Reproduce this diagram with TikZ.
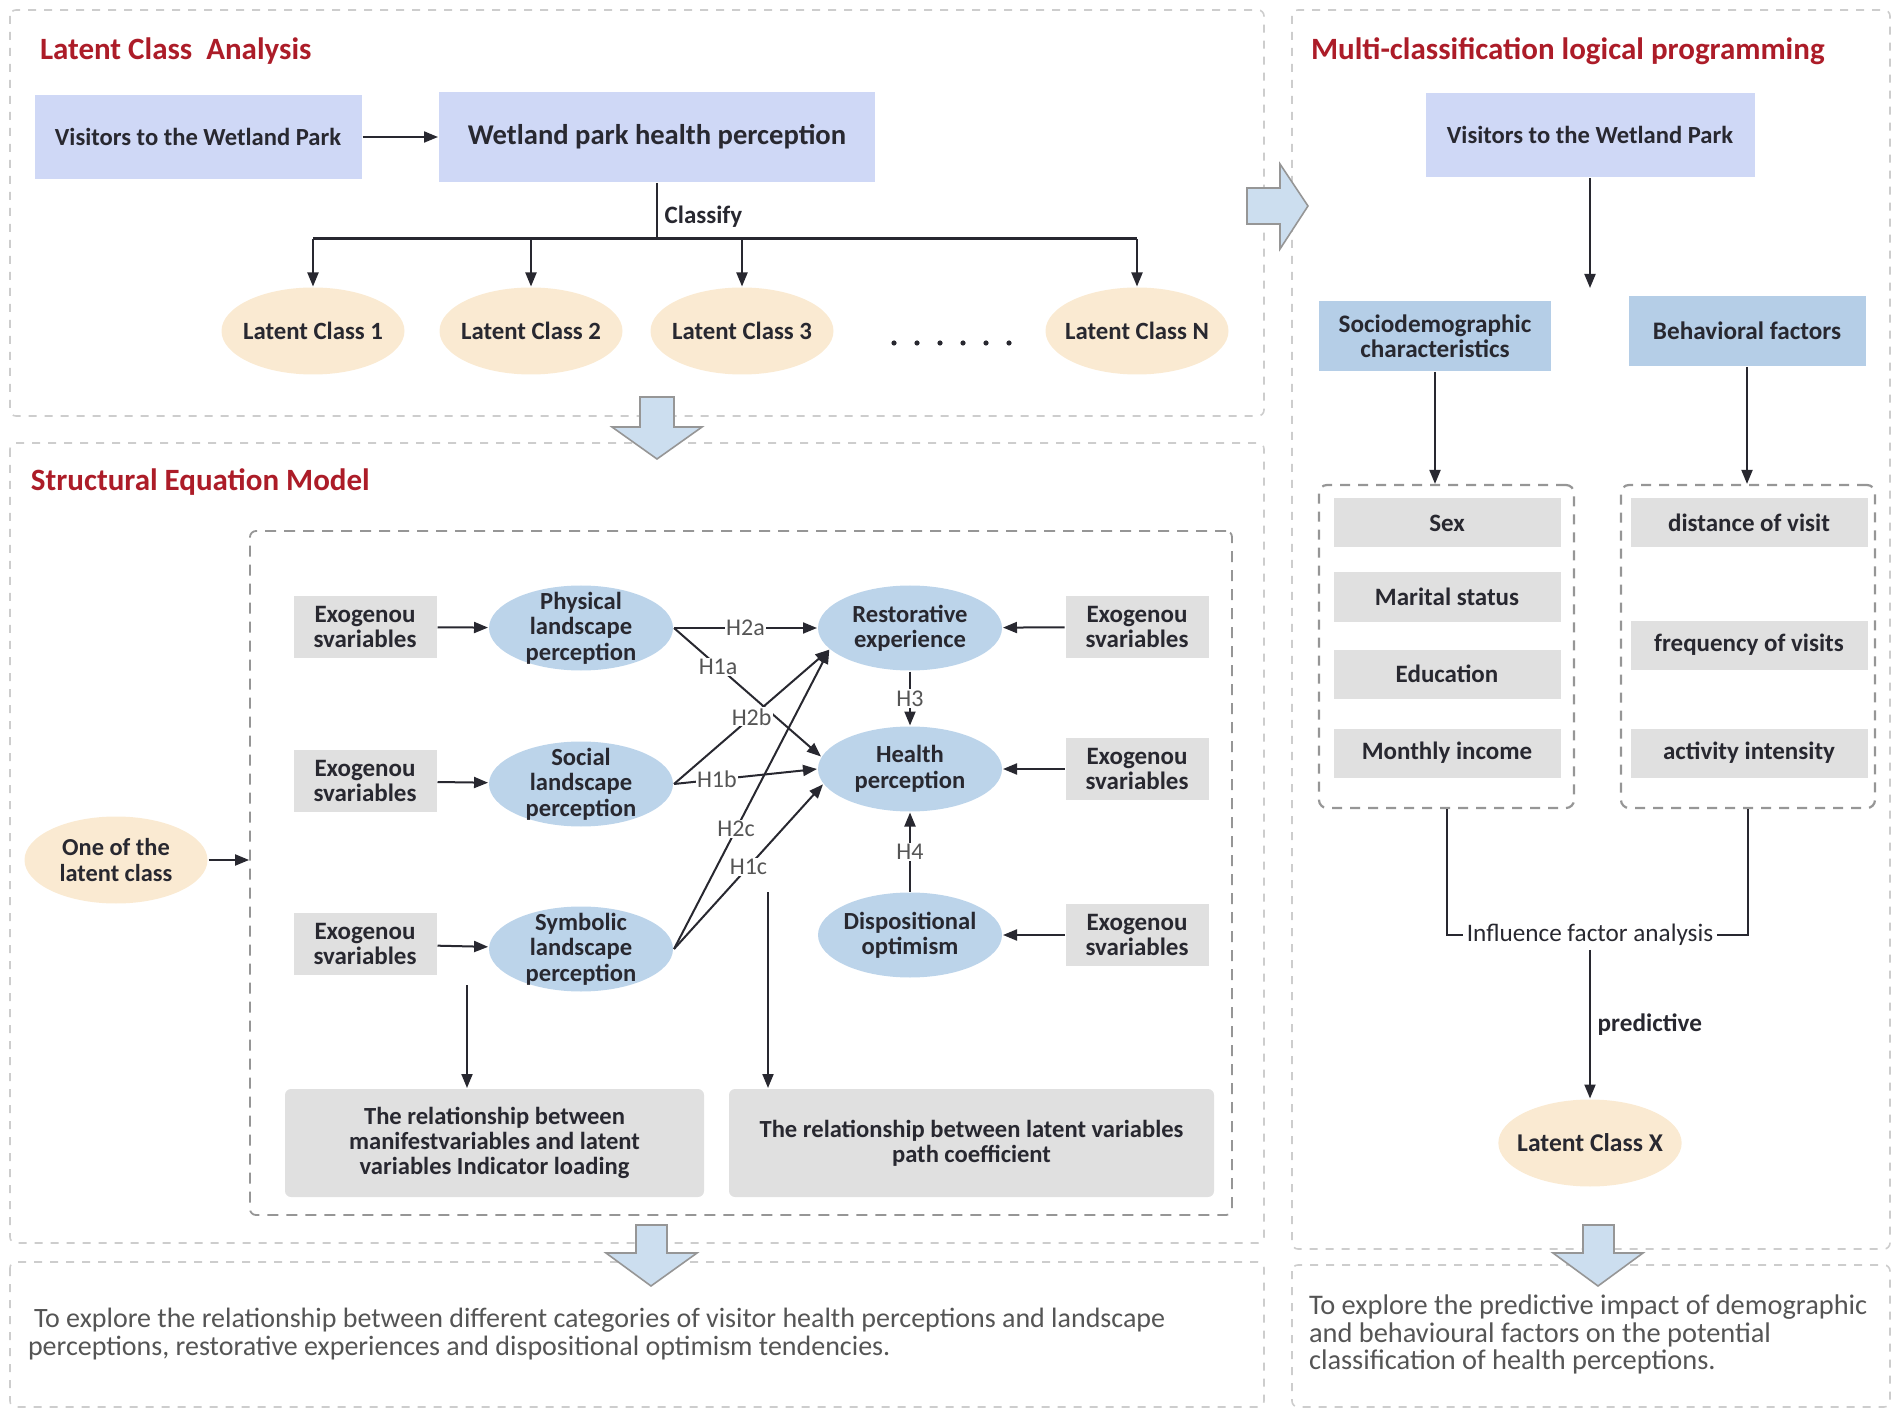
\documentclass[tikz,border=0pt]{standalone}
\usepackage{fontspec}
\setmainfont{Carlito}
\usetikzlibrary{arrows.meta}
\usetikzlibrary{shapes.geometric}
\definecolor{lav1}{RGB}{207,216,246}
\definecolor{blue1}{RGB}{188,212,234}
\definecolor{blue2}{RGB}{181,206,231}
\definecolor{peach1}{RGB}{250,234,210}
\definecolor{grey1}{RGB}{224,224,224}
\definecolor{red1}{RGB}{172,28,40}
\definecolor{ink1}{RGB}{40,40,48}
\definecolor{dash1}{RGB}{205,205,205}
\definecolor{dash2}{RGB}{150,150,150}
\definecolor{arr1}{RGB}{204,222,239}
\definecolor{txt1}{RGB}{85,85,85}

\begin{document}
\begin{tikzpicture}[x=0.5pt, y=-0.5pt, line width=1pt, draw=ink1,
  >={Triangle[length=7pt,width=5.5pt]},
  panel/.style={draw=dash1, line width=0.8pt, dash pattern=on 4pt off 4pt, rounded corners=3pt},
  semframe/.style={draw=dash2, line width=0.9pt, dash pattern=on 5.5pt off 4pt, rounded corners=3pt},
  subframe/.style={draw=dash2, line width=1.1pt, dash pattern=on 5pt off 4pt, rounded corners=4pt},
  blockarr/.style={fill=arr1, draw=dash2, line width=0.8pt},
  title/.style={text=red1, font=\bfseries\fontsize{15.5}{18}\selectfont, anchor=west, inner sep=0pt},
  lavbox/.style={fill=lav1, text=ink1, font=\bfseries\fontsize{12.3}{14}\selectfont, minimum height=42pt},
  facbox/.style={fill=blue2, text=ink1, font=\bfseries\fontsize{12.6}{12.7}\selectfont, minimum height=35pt, align=center},
  clsell/.style={ellipse, fill=peach1, text=ink1, font=\bfseries\fontsize{12.4}{12.7}\selectfont,
    minimum width=91.5pt, minimum height=43.5pt, inner sep=-4pt, align=center},
  semell/.style={ellipse, fill=blue1, text=ink1, font=\bfseries\fontsize{12.3}{12.7}\selectfont,
    minimum width=92pt, minimum height=42.5pt, inner sep=-5pt, align=center},
  exobox/.style={fill=grey1, text=ink1, font=\bfseries\fontsize{12.5}{12.7}\selectfont,
    minimum width=71.5pt, minimum height=31pt, inner sep=1pt, align=center},
  resbox/.style={fill=grey1, text=ink1, font=\bfseries\fontsize{12.3}{12.7}\selectfont,
    minimum height=54pt, rounded corners=3pt, align=center},
  itembox/.style={fill=grey1, text=ink1, font=\bfseries\fontsize{12.5}{13}\selectfont, minimum height=24.5pt},
  hlab/.style={fill=white, text=txt1, font=\fontsize{12}{13}\selectfont, inner sep=0.6pt},
  note/.style={text=txt1, align=left, anchor=north west, inner sep=0pt}]
\useasboundingbox (0,0) rectangle (1902,1417);

% panels
\draw[panel] (10,10) rectangle (1264,416);
\draw[panel] (10,443) rectangle (1264,1243);
\draw[panel] (10,1262) rectangle (1264,1407);
\draw[panel] (1292,10) rectangle (1890,1249);
\draw[panel] (1292,1265) rectangle (1890,1407);

\node[title] (t1) at (39,51) {Latent Class\ \ Analysis};
\node[title] (t2) at (30,482) {Structural Equation Model};
\node[title] (t3) at (1310,51) {Multi-classification logical programming};

% latent class analysis
\node[lavbox, minimum width=163.5pt] (vis1) at (198,137) {Visitors to the Wetland Park};
\node[lavbox, minimum width=218pt, minimum height=45pt, font=\bfseries\fontsize{14.3}{16}\selectfont] (whp) at (657,137) {Wetland park health perception};
\node[clsell] (lc1) at (313,331) {Latent Class 1};
\node[clsell] (lc2) at (531,331) {Latent Class 2};
\node[clsell] (lc3) at (742,331) {Latent Class 3};
\node[clsell] (lcn) at (1137,331) {Latent Class N};
\foreach \x in {0,...,5}
  \fill[ink1] (894+23*\x,343) circle (2.6);
\coordinate (bar) at (657,239);
\draw[->] (vis1) -- (whp);
\draw (whp.south) -- (bar) node[pos=0.6, right, text=ink1, font=\bfseries\fontsize{12.5}{13}\selectfont] {Classify};
\draw[line width=1.5pt] (bar -| lc1.north) -- (bar -| lcn.north);
\foreach \c in {lc1, lc2, lc3, lcn}
  \draw[->] (bar -| \c.north) -- (\c.north);

% structural equation model
\node[semframe, minimum width=491pt, minimum height=342pt] (semf) at (741,873) {};
\node[exobox] (ex1) at (365,627) {Exogenou\\svariables};
\node[exobox] (ex2) at (365,781) {Exogenou\\svariables};
\node[exobox] (ex3) at (365,944) {Exogenou\\svariables};
\node[semell] (phy) at (581,628) {Physical\\landscape\\perception};
\node[semell] (soc) at (581,784) {Social\\landscape\\perception};
\node[semell] (sym) at (581,949) {Symbolic\\landscape\\perception};
\node[semell] (res) at (910,628) {Restorative\\experience};
\node[semell] (hea) at (910,769) {Health\\perception};
\node[semell] (dis) at (910,935) {Dispositional\\optimism};
\node[exobox] (ex4) at (1137,627) {Exogenou\\svariables};
\node[exobox] (ex5) at (1137,769) {Exogenou\\svariables};
\node[exobox] (ex6) at (1137,935) {Exogenou\\svariables};
\node[clsell, font=\bfseries\fontsize{12.2}{12.7}\selectfont] (one) at (116,860) {One of the\\latent class};
\node[resbox, minimum width=209.5pt] (mani) at (494.5,1143) {The relationship between\\manifestvariables and latent\\variables Indicator loading};
\node[resbox, minimum width=242.5pt] (pathc) at (971.5,1143) {The relationship between latent variables\\path coefficient};

\foreach \from/\to in {ex1/phy, ex2/soc, ex3/sym, ex4/res, ex5/hea, ex6/dis}
  \draw[->] (\from) -- (\to);
\draw[->] (one.east) -- (one.east -| semf.west);

\draw[->] (phy.east) -- (res.west) node[hlab, pos=0.5] {H2a};
\draw[->] (phy.east) -- (hea.172) node[hlab, pos=0.3] {H1a};
\draw[->] (soc.east) -- (res.195) node[hlab, pos=0.5] {H2b};
\draw[->] (soc.east) -- (hea.west) node[hlab, pos=0.3] {H1b};
\draw[->] (sym.east) -- (res.195) node[hlab, pos=0.4] {H2c};
\draw[->] (sym.east) -- (hea.190) node[hlab, pos=0.5] {H1c};
\draw[->] (res.south) -- (hea.north) node[hlab, midway] {H3};
\draw[->] (dis.north) -- (hea.south) node[hlab, midway] {H4};

\coordinate (m0) at (467,985);
\coordinate (p0) at (768,892);
\draw[->] (m0) -- (m0 |- mani.north);
\draw[->] (p0) -- (p0 |- pathc.north);

% multi-classification
\node[lavbox, minimum width=164.5pt] (vis2) at (1590,135) {Visitors to the Wetland Park};
\coordinate (v2end) at (1590,288);
\draw[->] (vis2.south) -- (v2end);
\node[facbox, minimum width=116pt] (sdc) at (1435,336) {Sociodemographic\\characteristics};
\node[facbox, minimum width=118.5pt] (beh) at (1747,331) {Behavioral factors};
\node[subframe, minimum width=127.5pt, minimum height=161.5pt] (sdf) at (1446.5,646.5) {};
\node[subframe, minimum width=127pt, minimum height=161.5pt] (bhf) at (1748,646.5) {};
\foreach \y/\t [count=\i] in {523/Sex, 597/Marital status, 674/Education, 753/Monthly income}
  \node[itembox, minimum width=113.5pt] (sd\i) at (1447,\y) {\t};
\foreach \y/\t [count=\i] in {523/distance of visit, 645/frequency of visits, 753/activity intensity}
  \node[itembox, minimum width=118.5pt] (bh\i) at (1749,\y) {\t};
\draw[->] (sdc.south) -- (sdc.south |- sdf.north);
\draw[->] (beh.south) -- (beh.south |- bhf.north);

\node[text=ink1, font=\fontsize{12.6}{13}\selectfont, inner sep=1.5pt] (ifa) at (1590,935) {Influence factor analysis};
\draw (sdf.south) |- (ifa.west);
\draw (bhf.south) |- (ifa.east);
\node[clsell, font=\bfseries\fontsize{12.8}{13}\selectfont] (lcx) at (1590,1143) {Latent Class X};
\draw[->] (ifa.south) -- (lcx.north) node[midway, right, text=ink1, font=\bfseries\fontsize{12.6}{13}\selectfont] {predictive};

% block arrows
\draw[blockarr] (640,397) -- (674,397) -- (674,427) -- (702,427) -- (657,459) -- (612,427) -- (640,427) -- cycle;
\draw[blockarr] (1247,188) -- (1280,188) -- (1280,164) -- (1308,206) -- (1280,249) -- (1280,224) -- (1247,224) -- cycle;
\draw[blockarr] (636,1225) -- (667,1225) -- (667,1253) -- (697,1253) -- (651,1286) -- (606,1253) -- (636,1253) -- cycle;
\draw[blockarr] (1583,1225) -- (1614,1225) -- (1614,1253) -- (1643,1253) -- (1598,1286) -- (1553,1253) -- (1583,1253) -- cycle;

% conclusions
\node[note, font=\fontsize{14}{14}\selectfont] (txt1) at (27,1307) {\hspace*{3pt}To explore the relationship between different categories of visitor health perceptions and landscape\\perceptions, restorative experiences and dispositional optimism tendencies.};
\node[note, font=\fontsize{14.2}{13.75}\selectfont] (txt2) at (1308,1294) {To explore the predictive impact of demographic\\and behavioural factors on the potential\\classification of health perceptions.};
\end{tikzpicture}
\end{document}
